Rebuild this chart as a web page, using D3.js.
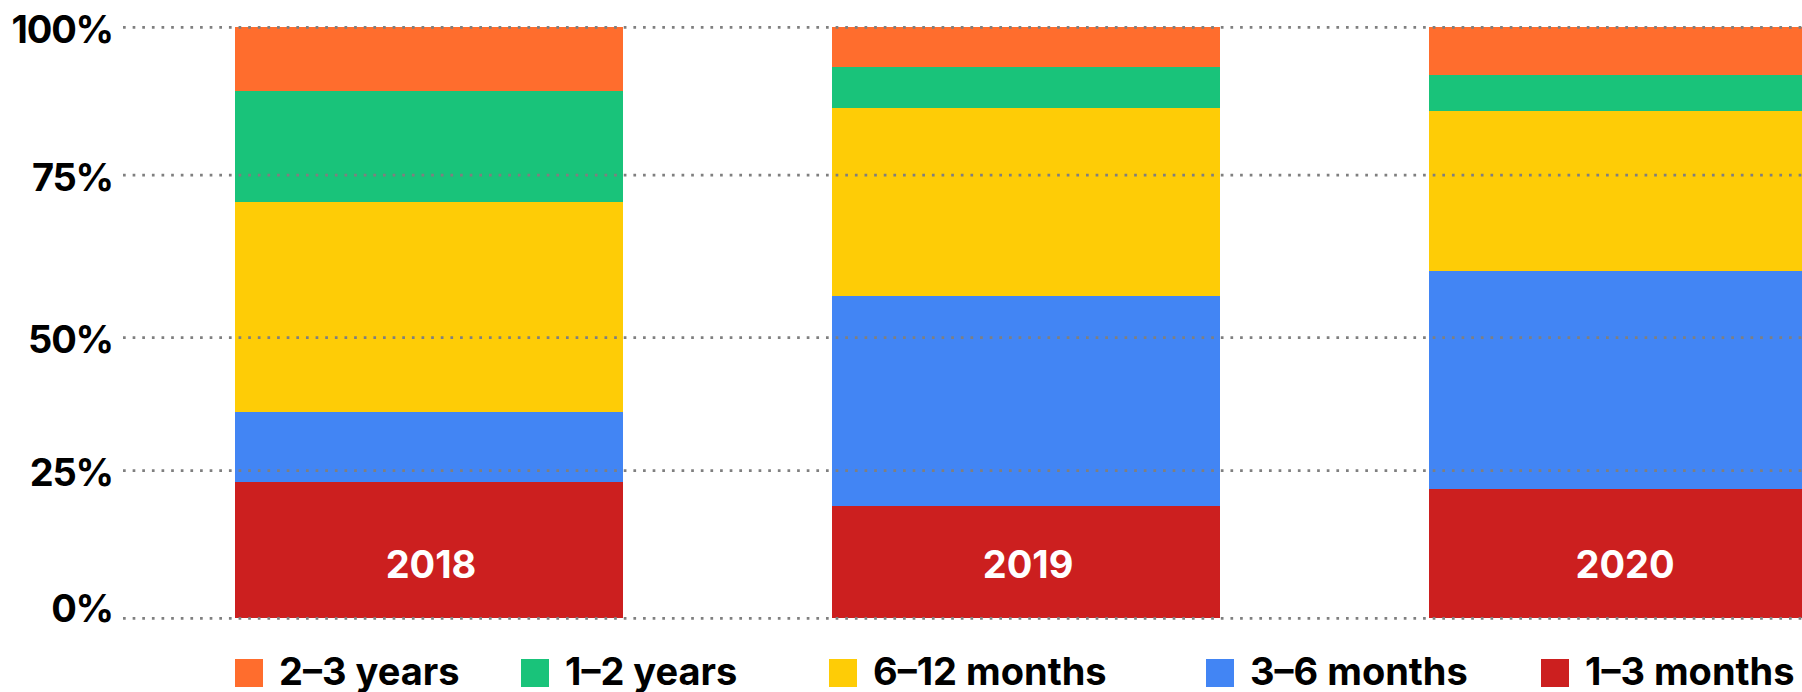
<!DOCTYPE html>
<html>
<head>
<meta charset="utf-8">
<script src="https://cdn.jsdelivr.net/npm/d3@7"></script>
<style>
  html, body { margin: 0; padding: 0; background: #fff; }
  svg { display: block; }
  text { font-family: Inter, "Noto Sans", sans-serif; font-weight: 700; }
</style>
</head>
<body>
<svg id="chart" width="1802" height="692"></svg>
<script>
// ---- data ----
const years = ["2018", "2019", "2020"];
const seriesNames = ["1–3 months", "3–6 months", "6–12 months", "1–2 years", "2–3 years"];
const months1to3  = [23.1, 19.0, 21.9];
const months3to6  = [11.8, 35.5, 36.8];
const months6to12 = [35.5, 31.8, 27.1];
const years1to2   = [18.8, 7.0, 6.2];
const years2to3   = [10.8, 6.7, 8.0];
const gridValues  = [0, 25, 47.5, 75, 100];
const tickLabels  = ["0%", "25%", "50%", "75%", "100%"];
const legendOrder = ["2–3 years", "1–2 years", "6–12 months", "3–6 months", "1–3 months"];

// ---- styles / layout ----
const colors = {
  "1–3 months": "#CC1F1F",
  "3–6 months": "#4285F4",
  "6–12 months": "#FECC06",
  "1–2 years": "#19C37A",
  "2–3 years": "#FF6D2D"
};
const W = 1802, H = 692;
const yTop = 27.3, yBottom = 618.3;
const step = 597, bandPad = 0.35, outerPad = 0.175;
const firstBarX = 235;
const legendX = [235, 521, 829, 1206, 1541];

const svg = d3.select("#chart");

const seriesValues = [months1to3, months3to6, months6to12, years1to2, years2to3];
const rows = years.map((yr, i) => {
  const r = { year: yr };
  seriesNames.forEach((s, k) => { r[s] = seriesValues[k][i]; });
  return r;
});

const x = d3.scaleBand()
  .domain(years)
  .range([firstBarX - outerPad * step, firstBarX - outerPad * step + years.length * step])
  .paddingInner(bandPad)
  .paddingOuter(outerPad);

const y = d3.scaleLinear().domain([0, 100]).range([yBottom, yTop]);

const stacked = d3.stack().keys(seriesNames)(rows);

// bars
svg.append("g").selectAll("g")
  .data(stacked)
  .join("g")
  .attr("fill", d => colors[d.key])
  .selectAll("rect")
  .data(d => d)
  .join("rect")
  .attr("x", d => x(d.data.year))
  .attr("width", x.bandwidth())
  .attr("y", d => y(d[1]))
  .attr("height", d => y(d[0]) - y(d[1]))
  .attr("shape-rendering", "crispEdges");

// gridlines (on top of bars)
svg.append("g").selectAll("line")
  .data(gridValues)
  .join("line")
  .attr("x1", 123)
  .attr("x2", W)
  .attr("y1", d => y(d))
  .attr("y2", d => y(d))
  .attr("stroke", "#7f7f7f")
  .attr("stroke-width", 2.7)
  .attr("stroke-dasharray", "2.7,6.93");

// y labels
svg.append("g").selectAll("text")
  .data(gridValues)
  .join("text")
  .attr("x", 113)
  .attr("y", d => Math.min(y(d) + 15.5, 622))
  .attr("text-anchor", "end")
  .attr("font-size", 38)
  .attr("letter-spacing", -1.2)
  .attr("fill", "#000")
  .text((d, i) => tickLabels[i]);

// year labels inside bars
svg.append("g").selectAll("text")
  .data(years)
  .join("text")
  .attr("x", d => x(d) + x.bandwidth() / 2 + 2)
  .attr("y", 577.5)
  .attr("text-anchor", "middle")
  .attr("font-size", 38)
  .attr("fill", "#fff")
  .text(d => d);

// legend
const lg = svg.append("g").selectAll("g")
  .data(legendOrder)
  .join("g")
  .attr("transform", (d, i) => `translate(${legendX[i]},659)`);
lg.append("rect")
  .attr("width", 28)
  .attr("height", 28)
  .attr("fill", d => colors[d]);
lg.append("text")
  .attr("x", 44)
  .attr("y", 25.5)
  .attr("font-size", 38)
  .attr("fill", "#000")
  .text(d => d);
</script>
</body>
</html>
